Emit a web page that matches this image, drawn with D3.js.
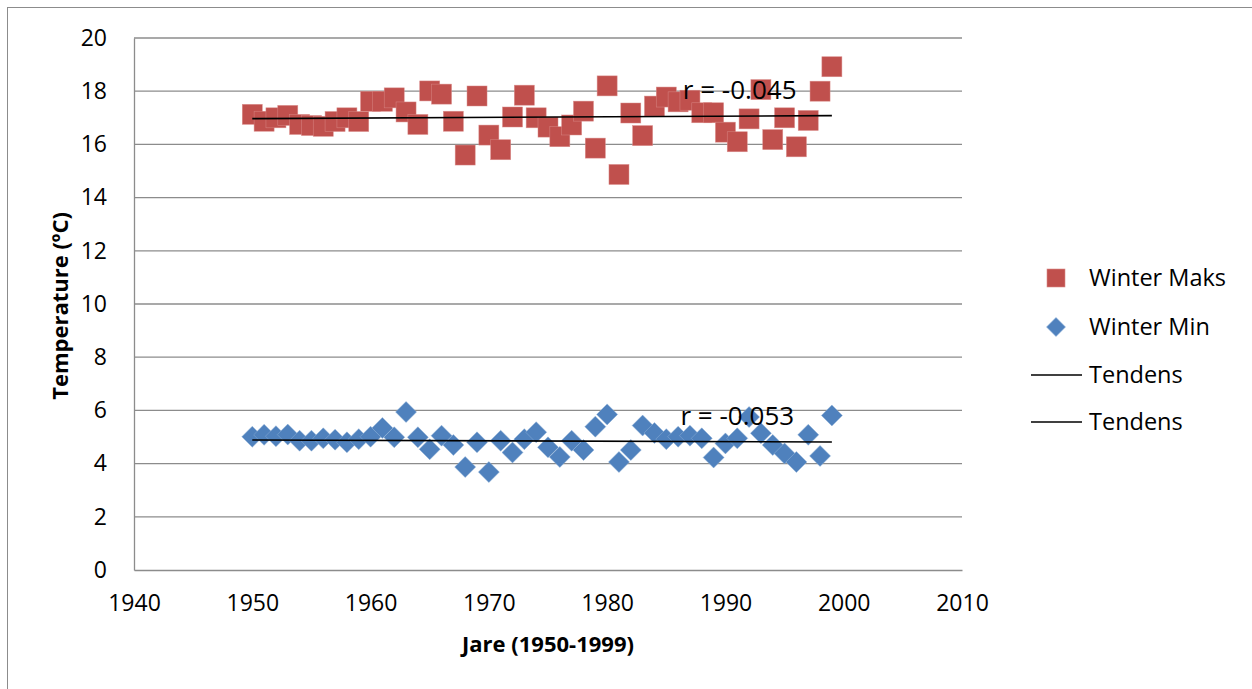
<!DOCTYPE html>
<html>
<head>
<meta charset="utf-8">
<script src="https://cdn.jsdelivr.net/npm/d3@7"></script>
<style>
  html, body { margin: 0; padding: 0; background: #fff; }
  svg { display: block; }
  text { font-family: "Open Sans", "Liberation Sans", sans-serif; fill: #000; }
</style>
</head>
<body>
<svg id="chart" width="1252" height="689"></svg>
<script>
// Winter temperatures, 1950-1999
const years = d3.range(1950, 2000);
const winterMaks = [
  17.13, 16.87, 17.00, 17.09, 16.75, 16.71, 16.68, 16.86, 17.00, 16.86,
  17.62, 17.62, 17.75, 17.22, 16.75, 18.01, 17.89, 16.87, 15.60, 17.82,
  16.35, 15.80, 17.03, 17.85, 17.00, 16.65, 16.29, 16.73, 17.25, 15.86,
  18.20, 14.87, 17.18, 16.33, 17.44, 17.78, 17.60, 17.66, 17.19, 17.19,
  16.46, 16.10, 16.96, 18.06, 16.18, 17.00, 15.91, 16.90, 18.00, 18.92
];
const winterMin = [
  5.01, 5.08, 5.03, 5.09, 4.86, 4.86, 4.95, 4.90, 4.80, 4.92,
  5.01, 5.34, 4.99, 5.94, 4.99, 4.54, 5.05, 4.70, 3.87, 4.80,
  3.68, 4.86, 4.42, 4.92, 5.18, 4.61, 4.25, 4.86, 4.51, 5.39,
  5.85, 4.06, 4.51, 5.43, 5.15, 4.92, 5.01, 5.05, 4.95, 4.23,
  4.76, 4.95, 5.75, 5.14, 4.70, 4.38, 4.06, 5.08, 4.29, 5.81
];
// Linear trend endpoints (first year, last year)
const trendYears = [1950, 1999];
const maksTrend = [16.97, 17.08];
const minTrend = [4.89, 4.81];
const maksR = "r = -0.045";
const minR = "r = -0.053";

const xTicks = [1940, 1950, 1960, 1970, 1980, 1990, 2000, 2010];
const yTicks = [0, 2, 4, 6, 8, 10, 12, 14, 16, 18, 20];
const legendLabels = ["Winter Maks", "Winter Min", "Tendens", "Tendens"];

const colMaks = "#C0504D";
const colMin = "#4F81BD";
const gridCol = "#8c8c8c";

const svg = d3.select("#chart");

// outer chart border
svg.append("rect")
  .attr("x", 7.5).attr("y", 7.5)
  .attr("width", 1260).attr("height", 700)
  .attr("fill", "none").attr("stroke", "#8c8c8c").attr("stroke-width", 1);

const plot = { left: 134, right: 962, top: 38, bottom: 570 };

const x = d3.scaleLinear().domain([1940, 2010]).range([plot.left, plot.right]);
const y = d3.scaleLinear().domain([0, 20]).range([plot.bottom, plot.top]);

// horizontal gridlines
svg.append("g")
  .selectAll("line")
  .data(yTicks.filter(v => v > 0))
  .join("line")
  .attr("x1", plot.left).attr("x2", plot.right)
  .attr("y1", d => y(d)).attr("y2", d => y(d))
  .attr("stroke", gridCol).attr("stroke-width", 1.3);

// y axis
const yAxis = svg.append("g")
  .attr("transform", `translate(${plot.left},0)`)
  .call(d3.axisLeft(y).tickValues(yTicks).tickSize(0).tickPadding(27).tickFormat(d3.format("d")));
yAxis.select(".domain").attr("stroke", gridCol).attr("stroke-width", 1.3);
yAxis.selectAll("text").attr("font-size", 23).attr("font-family", "Open Sans").attr("fill", "#000");

// x axis
const xAxis = svg.append("g")
  .attr("transform", `translate(0,${plot.bottom})`)
  .call(d3.axisBottom(x).tickValues(xTicks).tickSize(0).tickPadding(25).tickFormat(d3.format("d")));
xAxis.select(".domain").attr("stroke", gridCol).attr("stroke-width", 1.3);
xAxis.selectAll("text").attr("font-size", 23).attr("font-family", "Open Sans").attr("fill", "#000");

// axis titles
svg.append("text")
  .attr("x", 548).attr("y", 652)
  .attr("text-anchor", "middle")
  .attr("font-size", 22).attr("font-weight", "bold")
  .text("Jare (1950-1999)");

svg.append("text")
  .attr("transform", `translate(68,306) rotate(-90)`)
  .attr("text-anchor", "middle")
  .attr("font-size", 22).attr("font-weight", "bold")
  .text("Temperature (ºC)");

// Winter Maks: squares
const sq = 20;
svg.append("g")
  .selectAll("rect")
  .data(years.map((yr, i) => [yr, winterMaks[i]]))
  .join("rect")
  .attr("x", d => x(d[0]) - sq / 2)
  .attr("y", d => y(d[1]) - sq / 2)
  .attr("width", sq).attr("height", sq)
  .attr("fill", colMaks)
  .attr("stroke", "#d98a88").attr("stroke-width", 0.6).attr("stroke-opacity", 0.8);

// Winter Min: diamonds
const dm = 10.5;
const diamond = (cx, cy, r) => `M${cx},${cy - r}L${cx + r},${cy}L${cx},${cy + r}L${cx - r},${cy}Z`;
svg.append("g")
  .selectAll("path")
  .data(years.map((yr, i) => [yr, winterMin[i]]))
  .join("path")
  .attr("d", d => diamond(x(d[0]), y(d[1]), dm))
  .attr("fill", colMin)
  .attr("stroke", "#8fb0d8").attr("stroke-width", 0.6).attr("stroke-opacity", 0.8);

// trend lines
const line = d3.line().x(d => x(d[0])).y(d => y(d[1]));
[maksTrend, minTrend].forEach(tr => {
  svg.append("path")
    .datum(trendYears.map((yr, i) => [yr, tr[i]]))
    .attr("d", line)
    .attr("fill", "none").attr("stroke", "#000").attr("stroke-width", 1.6);
});

// correlation labels
svg.append("text")
  .attr("x", x(1986.4)).attr("y", y(18.05) + 9)
  .attr("font-size", 26)
  .text(maksR);
svg.append("text")
  .attr("x", x(1986.2)).attr("y", y(5.8) + 9)
  .attr("font-size", 26)
  .text(minR);

// legend
const lg = svg.append("g");
const lgX = 1089;
const lgY = [278, 327, 375, 422];
lg.append("rect")
  .attr("x", 1056 - 9).attr("y", lgY[0] - 9)
  .attr("width", 18).attr("height", 18)
  .attr("fill", colMaks).attr("stroke", "#d98a88").attr("stroke-width", 0.6);
lg.append("path")
  .attr("d", diamond(1056, lgY[1], 9.5))
  .attr("fill", colMin).attr("stroke", "#8fb0d8").attr("stroke-width", 0.6);
[2, 3].forEach(i => {
  lg.append("line")
    .attr("x1", 1031).attr("x2", 1082)
    .attr("y1", lgY[i]).attr("y2", lgY[i])
    .attr("stroke", "#000").attr("stroke-width", 1.6);
});
lg.selectAll("text.lbl")
  .data(legendLabels)
  .join("text")
  .attr("class", "lbl")
  .attr("x", lgX)
  .attr("y", (d, i) => lgY[i] + 8)
  .attr("font-size", 23.5)
  .text(d => d);
</script>
</body>
</html>
